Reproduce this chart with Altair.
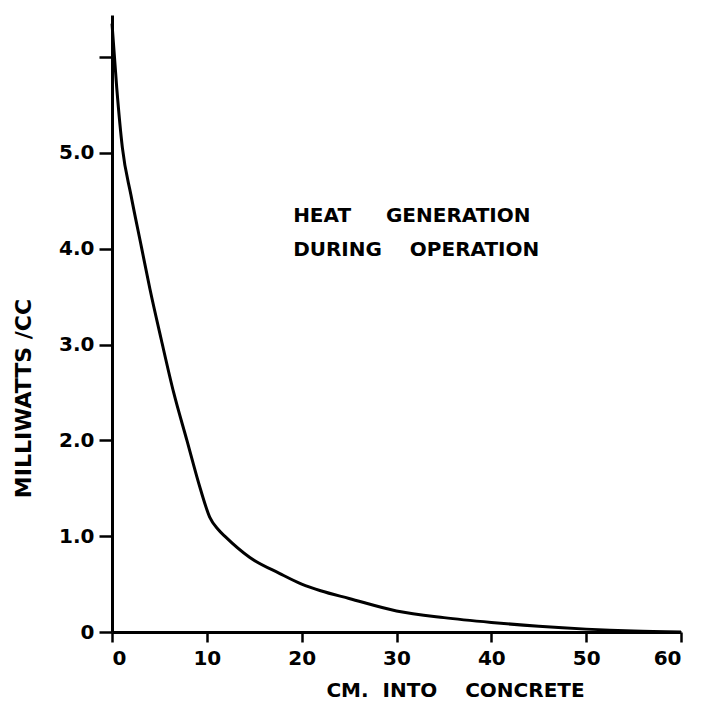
import altair as alt
import pandas as pd

# Data
depth_cm = [0, 0.5, 1.1, 2, 3.1, 4, 5.2, 6.5, 7.9, 9.3, 10.3, 11.2, 12.0,
            14.5, 17.7, 20, 22, 25, 30, 35, 40, 45, 50, 55, 60]
heat_mw_cc = [6.35, 5.68, 5.05, 4.56, 4.02, 3.58, 3.05, 2.5, 2.0, 1.5, 1.2, 1.07, 0.99,
              0.78, 0.61, 0.5, 0.43, 0.35, 0.22, 0.15, 0.1, 0.06, 0.03, 0.01, 0.0]

x_ticks = [0, 10, 20, 30, 40, 50, 60]
y_ticks = [0, 1, 2, 3, 4, 5, 6]

note_lines = ["HEAT\u00a0\u00a0\u00a0\u00a0\u00a0GENERATION", "DURING\u00a0\u00a0\u00a0\u00a0OPERATION"]
note_x = [19.1, 19.1]
note_y = [4.34, 3.99]

x_title = "CM.\u00a0\u00a0INTO\u00a0\u00a0\u00a0\u00a0CONCRETE"
y_title = "MILLIWATTS /CC"

FONT = "DejaVu Sans"

df = pd.DataFrame({"x": depth_cm, "y": heat_mw_cc})
notes = pd.DataFrame({"x": note_x, "y": note_y, "t": note_lines})

xscale = alt.Scale(domain=[0, 60], nice=False, zero=True)
yscale = alt.Scale(domain=[0, 6.44], nice=False, zero=True)

line = alt.Chart(df).mark_line(
    color="black", strokeWidth=3, interpolate="monotone"
).encode(
    x=alt.X("x:Q", scale=xscale, axis=alt.Axis(
        values=x_ticks, title=x_title, grid=False,
        tickSize=10, labelPadding=6,
        titleX=343, titleY=58, titleAlign="center", titleBaseline="middle",
        titleFontSize=20, titleFont=FONT, titleFontWeight="bold",
    )),
    y=alt.Y("y:Q", scale=yscale, axis=alt.Axis(
        values=y_ticks, title=y_title, grid=False,
        tickSize=13, labelPadding=5,
        labelExpr="datum.value == 0 ? '0' : (datum.value == 6 ? '' : format(datum.value, '.1f'))",
        titleX=-89, titleY=383, titleAngle=270, titleAlign="center", titleBaseline="middle",
        titleFontSize=22, titleFont=FONT, titleFontWeight="bold",
    )),
)

text = alt.Chart(notes).mark_text(
    align="left", baseline="middle", font=FONT, fontSize=20, fontWeight="bold", color="black"
).encode(
    x=alt.X("x:Q", scale=xscale),
    y=alt.Y("y:Q", scale=yscale),
    text="t:N",
)

chart = alt.layer(line, text).properties(
    width=569, height=617,
    autosize=alt.AutoSizeParams(type="none"),
    padding={"left": 104, "top": 7, "right": 12, "bottom": 70},
    background="white",
).configure_view(stroke=None).configure_axis(
    domainColor="black", domainWidth=3, tickColor="black", tickWidth=2.5,
    labelColor="black", titleColor="black", labelFont=FONT, labelFontSize=20,
    labelFontWeight="bold",
)

chart.save("out.html", embed_options={"renderer": "svg", "actions": False})
